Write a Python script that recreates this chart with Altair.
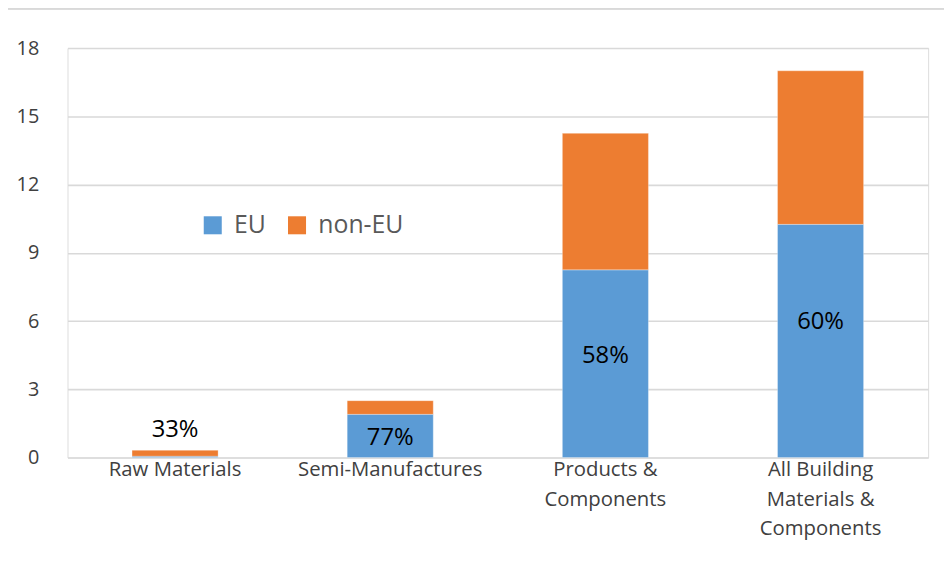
import altair as alt
import pandas as pd

categories = ["Raw Materials", "Semi-Manufactures", "Products &|Components", "All Building|Materials &|Components"]
eu_values = [0.06, 1.9, 8.25, 10.25]
non_eu_values = [0.26, 0.6, 6.0, 6.75]
pct_labels = ["33%", "77%", "58%", "60%"]
label_y = [1.2, 0.85, 4.45, 5.95]
series = ["EU", "non-EU"]
colors = ["#5B9BD5", "#ED7D31"]
y_ticks = [0, 3, 6, 9, 12, 15, 18]

rows = []
for i, c in enumerate(categories):
    rows.append({"cat": c, "series": "EU", "value": eu_values[i], "order": 0})
    rows.append({"cat": c, "series": "non-EU", "value": non_eu_values[i], "order": 1})
df = pd.DataFrame(rows)
lab = pd.DataFrame({"cat": categories, "label": pct_labels, "y": label_y})

FONT = "Open Sans"
W, H = 868, 413

x_enc = alt.X("cat:N", sort=categories, title=None,
              scale=alt.Scale(paddingInner=0.6, paddingOuter=0.3),
              axis=alt.Axis(labelExpr="split(datum.value, '|')", labelAngle=0,
                            labelFontSize=20.5, labelFont=FONT, labelColor="#404040",
                            labelLineHeight=30, labelPadding=2, domain=False, ticks=False,
                            labelBaseline="top", labelLimit=400))

bars = alt.Chart(df).mark_bar(stroke="white", strokeWidth=0.6, strokeOpacity=0.5).encode(
    x=x_enc,
    y=alt.Y("value:Q", stack="zero", title=None,
            scale=alt.Scale(domain=[0, 18], nice=False),
            axis=alt.Axis(values=y_ticks, labelFontSize=20, labelFont=FONT, labelColor="#404040",
                          labelPadding=29, domain=False, ticks=False, gridColor="#D9D9D9",
                          gridWidth=1.6)),
    color=alt.Color("series:N", sort=series,
                    scale=alt.Scale(domain=series, range=colors),
                    legend=alt.Legend(title=None, orient="none", legendX=134, legendY=166,
                                      direction="horizontal", symbolType="square", symbolSize=330,
                                      symbolStrokeWidth=0, labelFontSize=25, labelFont=FONT,
                                      labelColor="#595959", columnPadding=18, labelOffset=9)),
    order=alt.Order("order:Q"),
)

texts = alt.Chart(lab).mark_text(fontSize=24, font=FONT, color="#000000").encode(
    x=alt.X("cat:N", sort=categories),
    y=alt.Y("y:Q"),
    text="label:N",
)

frame_top = alt.Chart(lab).mark_rule(color="#D9D9D9", strokeWidth=2, clip=False).encode(
    x=alt.value(-62), x2=alt.value(W + 40), y=alt.value(-40))
frame_left = alt.Chart(lab).mark_rule(color="#D9D9D9", strokeWidth=2, clip=False).encode(
    x=alt.value(-62), y=alt.value(-40), y2=alt.value(H + 200))

chart = alt.layer(bars, texts, frame_top, frame_left).properties(
    width=W, height=H,
    autosize=alt.AutoSizeParams(type="none"),
    padding={"left": 60, "top": 38, "right": 16, "bottom": 110},
).configure_view(stroke=None).configure(background="white")

chart.save("out.html", embed_options={"renderer": "svg", "actions": False})
